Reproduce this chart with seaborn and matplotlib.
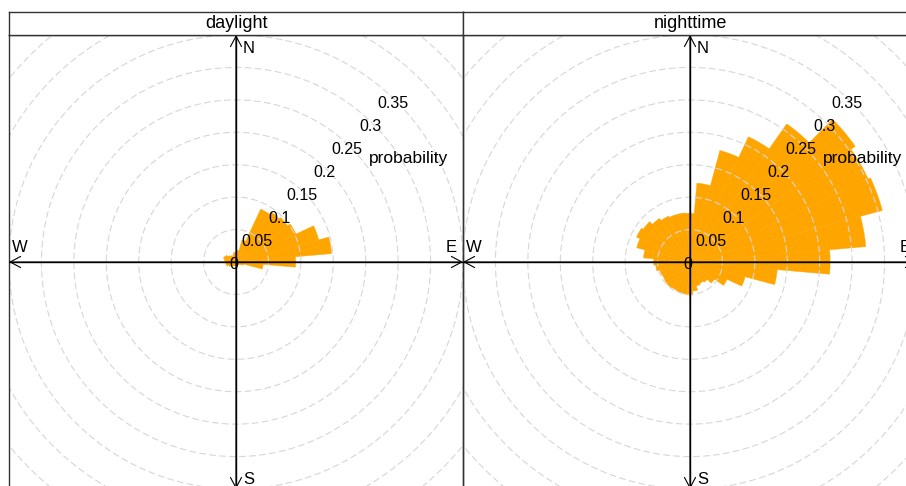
import numpy as np
import pandas as pd
import matplotlib
matplotlib.use("Agg")
import matplotlib.pyplot as plt
import seaborn as sns

sns.set_theme(style="white")
plt.rcParams['font.family'] = ['Liberation Sans', 'DejaVu Sans']

# ---- data ----
directions = list(range(0, 360, 10))
daylight = [0.015, 0.018, 0.035, 0.090, 0.094, 0.097, 0.102, 0.132, 0.148, 0.092,
            0.042, 0.012, 0.008, 0.006, 0.005, 0.005, 0.005, 0.006, 0.006, 0.006,
            0.006, 0.007, 0.008, 0.010, 0.012, 0.015, 0.016, 0.014, 0.018, 0.020,
            0.018, 0.014, 0.012, 0.010, 0.012, 0.015]
nighttime = [0.075, 0.122, 0.178, 0.213, 0.260, 0.311, 0.303, 0.307, 0.272, 0.216,
             0.135, 0.088, 0.063, 0.046, 0.038, 0.036, 0.038, 0.045, 0.051, 0.050,
             0.049, 0.048, 0.049, 0.048, 0.047, 0.048, 0.053, 0.056, 0.072, 0.085,
             0.091, 0.088, 0.082, 0.078, 0.076, 0.076]
panels = ["daylight", "nighttime"]
ticks = [0, 0.05, 0.1, 0.15, 0.2, 0.25, 0.3, 0.35]
tick_labels = ["0", "0.05", "0.1", "0.15", "0.2", "0.25", "0.3", "0.35"]
grid_levels = [0.05, 0.1, 0.15, 0.2, 0.25, 0.3, 0.35, 0.4, 0.45, 0.5]

df = pd.DataFrame({"dir": directions * 2,
                   "prob": daylight + nighttime,
                   "period": ["daylight"] * 36 + ["nighttime"] * 36})

W, H = 906, 486
fig = plt.figure(figsize=(W / 100, H / 100), dpi=100)
fig.patch.set_facecolor("white")

RMAX = 0.35
size = 454
lefts = [9, 463]
top = 35
strip_top = 12
px = RMAX / 227.0

for i, name in enumerate(panels):
    l = lefts[i]
    rect = [l / W, (H - top - size) / H, size / W, size / H]
    # polar axes for the wedges
    pax = fig.add_axes(rect, projection="polar")
    sub = df[df.period == name]
    pax.bar(np.deg2rad(sub["dir"].values), sub["prob"].values,
            width=np.deg2rad(10), color="#FFA500", edgecolor="#FFA500",
            linewidth=0.3, align="center")
    pax.set_theta_zero_location("N")
    pax.set_theta_direction(-1)
    pax.set_ylim(0, RMAX)
    pax.set_axis_off()
    pax.patch.set_alpha(0)

    # cartesian overlay for grid, axes, arrows and labels
    ax = fig.add_axes(rect)
    ax.set_xlim(-RMAX, RMAX)
    ax.set_ylim(-RMAX, RMAX)
    ax.patch.set_alpha(0)
    ax.set_xticks([])
    ax.set_yticks([])
    for s in ax.spines.values():
        s.set_color("#333333")
        s.set_linewidth(1.0)
    t = np.linspace(0, 2 * np.pi, 400)
    for g in grid_levels:
        ax.plot(g * np.cos(t), g * np.sin(t), color="#D6D6D6", lw=0.8,
                ls=(0, (6, 3)), zorder=2)
    ax.plot([-RMAX, RMAX], [0, 0], color="black", lw=1.0, zorder=3)
    ax.plot([0, 0], [-RMAX, RMAX], color="black", lw=1.0, zorder=3)
    for end in [(0, RMAX), (RMAX, 0), (0, -RMAX), (-RMAX, 0)]:
        ax.annotate("", xy=end, xytext=(0, 0),
                    arrowprops=dict(arrowstyle="->,head_length=0.75,head_width=0.4",
                                    color="black", lw=0.8, shrinkA=0, shrinkB=0,
                                    mutation_scale=10), zorder=4)
    fs = 12
    ax.text(7 * px, 214 * px, "N", ha="left", va="center", fontsize=fs, color="black")
    ax.text(7 * px, -217 * px, "S", ha="left", va="center", fontsize=fs, color="black")
    ax.text(215 * px, 15 * px, "E", ha="center", va="center", fontsize=fs, color="black")
    ax.text(-216 * px, 15 * px, "W", ha="center", va="center", fontsize=fs, color="black")
    ang = np.deg2rad(44.5)
    for v, lab in zip(ticks, tick_labels):
        r = v - 0.005
        ax.text(r * np.sin(ang), r * np.cos(ang) - 0.001, lab, ha="center", va="center",
                fontsize=11.5, color="black", zorder=5)
    ax.text(173 * px, 104 * px, "probability", ha="center", va="center",
            fontsize=12.5, color="black", zorder=5)

    # strip
    sax = fig.add_axes([l / W, (H - top) / H, size / W, (top - strip_top) / H])
    sax.set_xticks([])
    sax.set_yticks([])
    sax.set_facecolor("white")
    for s in sax.spines.values():
        s.set_color("#333333")
        s.set_linewidth(1.0)
    sax.text(0.5, 0.48, name, ha="center", va="center", fontsize=13,
             transform=sax.transAxes, color="black")

fig.savefig("out.png", dpi=100)
